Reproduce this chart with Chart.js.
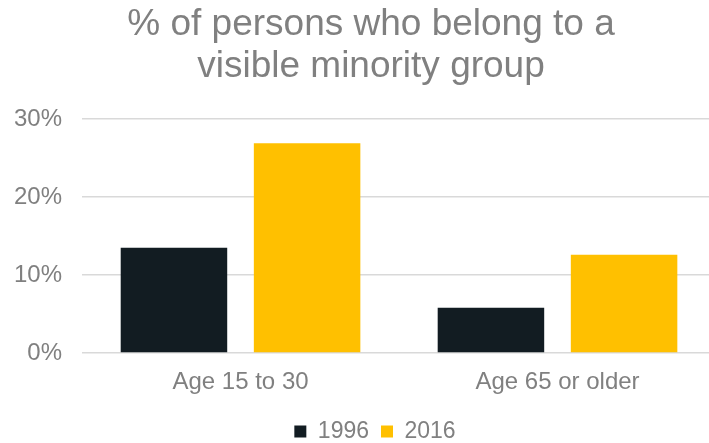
<!DOCTYPE html>
<html>
<head>
<meta charset="utf-8">
<script src="https://cdn.jsdelivr.net/npm/chart.js@4"></script>
<style>
  html, body { margin:0; padding:0; background:#fff; overflow:hidden; }
  #wrap { width:716px; height:443px; }
</style>
</head>
<body>
<div id="wrap"><canvas id="visibleChart"></canvas></div>
<script>
/* DATA */

const categories = ["Age 15 to 30", "Age 65 or older"];

const years = ["1996", "2016"];

const values1996 = [13.5, 5.8];

const values2016 = [26.9, 12.6];

const yTicks = [0, 10, 20, 30];

/* CHART */

const grey = "#808080";
const fontFamily = "Liberation Sans, Arial, sans-serif";

/* geser judul dan legend sedikit ke kanan, seperti aslinya */
const shiftBlocks = {
  id:"shiftBlocks",
  afterLayout(chart){
    if(chart.titleBlock){
      chart.titleBlock.left += 32;
    }
    if(chart.legend){
      chart.legend.left += 40;
    }
  }
};

const ctx =
document.getElementById(
  "visibleChart"
);

const visibleChart =
new Chart(ctx,{

  type:"bar",

  data:{
    labels:categories,

    datasets:[{
      label:years[0],
      data:values1996,
      backgroundColor:"#121c22",
      categoryPercentage:0.84,
      barPercentage:0.8
    },{
      label:years[1],
      data:values2016,
      backgroundColor:"#ffc000",
      categoryPercentage:0.84,
      barPercentage:0.8
    }]
  },

  options:{
    responsive:true,
    maintainAspectRatio:false,
    animation:false,
    layout:{
      padding:{ left:-6, right:0, top:0, bottom:-10 }
    },
    plugins:{
      title:{
        display:true,
        text:["% of persons who belong to a", "visible minority group"],
        color:grey,
        font:{ family:fontFamily, size:37, weight:"normal", lineHeight:1.135 },
        padding:{ top:4, bottom:31 }
      },
      legend:{
        position:"bottom",
        labels:{
          color:grey,
          font:{ family:fontFamily, size:23 },
          boxWidth:12,
          boxHeight:12,
          padding:12
        }
      },
      tooltip:{ enabled:false }
    },
    scales:{
      x:{
        grid:{ display:false, drawTicks:false },
        border:{ display:false },
        ticks:{
          color:grey,
          font:{ family:fontFamily, size:24 },
          padding:15
        },
        afterFit:(axis)=>{
          axis.height = 55;
        }
      },
      y:{
        min:0,
        max:30,
        afterBuildTicks:(axis)=>{
          axis.ticks = yTicks.map(v=>({ value:v }));
        },
        grid:{
          color:"#d9d9d9",
          lineWidth:1.5,
          drawTicks:false
        },
        border:{ display:false },
        ticks:{
          color:grey,
          font:{ family:fontFamily, size:24 },
          padding:20,
          callback:(v)=> v + "%"
        }
      }
    }
  },

  plugins:[shiftBlocks]

});
</script>
</body>
</html>
